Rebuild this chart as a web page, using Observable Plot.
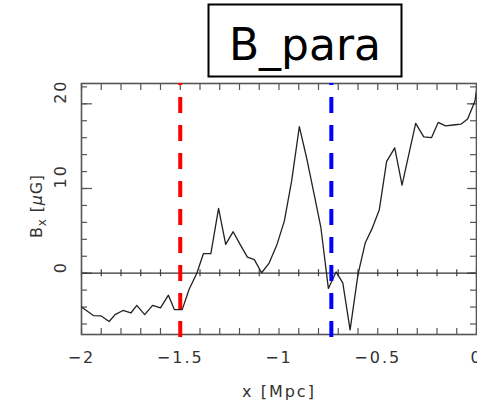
<!DOCTYPE html>
<html><head><meta charset="utf-8">
<script src="https://cdn.jsdelivr.net/npm/d3@7"></script>
<script src="https://cdn.jsdelivr.net/npm/@observablehq/plot@0.6"></script>
<style>body{margin:0;background:#fff;} svg{display:block;}</style>
</head><body><div id="chart"></div>
<script>
const title = "B_para";
const xLabel = "x [Mpc]";
const xValues = [-2.00,-1.94,-1.90,-1.86,-1.83,-1.79,-1.75,-1.72,-1.68,-1.64,-1.60,-1.56,-1.53,-1.49,-1.455,-1.416,-1.383,-1.345,-1.306,-1.27,-1.232,-1.197,-1.16,-1.125,-1.088,-1.05,-1.01,-0.973,-0.936,-0.897,-0.86,-0.822,-0.788,-0.75,-0.711,-0.677,-0.64,-0.60,-0.563,-0.53,-0.492,-0.455,-0.414,-0.377,-0.343,-0.308,-0.267,-0.228,-0.194,-0.157,-0.118,-0.079,-0.045,-0.008,0.0];
const yValues = [-4.0,-5.0,-5.05,-5.7,-4.9,-4.4,-4.7,-3.8,-4.9,-3.8,-4.1,-2.6,-4.3,-4.3,-1.9,0.0,2.3,2.3,7.65,3.4,4.9,3.4,1.9,1.6,0.05,1.2,3.4,6.15,10.9,17.3,13.6,9.3,5.4,-1.8,0.15,-1.15,-6.7,-0.15,3.6,5.2,7.5,13.2,14.8,10.4,14.0,17.7,16.1,16.0,17.8,17.4,17.5,17.6,18.2,20.3,21.6];
const xTickLabels = [-2,-1.5,-1,-0.5,0];
const yTickLabels = [0,10,20];
const xMinorTicks = d3.range(-20,1).map(i=>i/10);
const yMinorTicks = d3.range(-6,23,2);
const yMajorTicks = [0,10,20];
const redLineX = [-1.5];
const blueLineX = [-0.735];

const W = 477, H = 408, mT = 83, mR = 1, mB = 74, mL = 81;
const xDomain = [-2, 0], yDomain = [-7.24, 22.4];
const frameW = W - mL - mR, frameH = H - mT - mB;
const zeroOff = (yDomain[1] - 0) / (yDomain[1] - yDomain[0]) * frameH;
const data = xValues.map((x, i) => ({x, y: yValues[i]}));
const fmt = d => String(d).replace("-", "\u2212");
const tickColor = "#555";

const plot = Plot.plot({
  width: W, height: H,
  marginTop: mT, marginRight: mR, marginBottom: mB, marginLeft: mL,
  x: {domain: xDomain, axis: null},
  y: {domain: yDomain, axis: null},
  style: {fontFamily: "DejaVu Sans", fontSize: "16px", letterSpacing: "2px", background: "#fff"},
  marks: [
    Plot.tickX(xMinorTicks, {x: d => d, insetBottom: frameH - 7, stroke: tickColor, strokeWidth: 1.2}),
    Plot.tickX(xMinorTicks, {x: d => d, insetTop: frameH - 6, stroke: tickColor, strokeWidth: 1.2}),
    Plot.tickX(xMinorTicks, {x: d => d, insetTop: zeroOff - 3.5, insetBottom: frameH - zeroOff - 3.5, stroke: "#444", strokeWidth: 1.2}),
    Plot.tickY(yMinorTicks, {y: d => d, insetRight: frameW - 6, stroke: tickColor, strokeWidth: 1.2}),
    Plot.tickY(yMajorTicks, {y: d => d, insetRight: frameW - 11, stroke: tickColor, strokeWidth: 1.2}),
    Plot.tickY(yMinorTicks, {y: d => d, insetLeft: frameW - 6, stroke: tickColor, strokeWidth: 1.2}),
    Plot.tickY(yMajorTicks, {y: d => d, insetLeft: frameW - 9, stroke: tickColor, strokeWidth: 1.2}),
    Plot.ruleY([0], {stroke: "#333", strokeWidth: 1.3}),
    Plot.frame({stroke: tickColor, strokeWidth: 1.6}),
    Plot.line(data, {x: "x", y: "y", stroke: "#222", strokeWidth: 1.3, clip: true}),
    Plot.ruleX(redLineX, {x: d => d, stroke: "#ff0000", strokeWidth: 4, strokeDasharray: "16,12", strokeDashoffset: 14, insetBottom: -3}),
    Plot.ruleX(blueLineX, {x: d => d, stroke: "#0000ff", strokeWidth: 4, strokeDasharray: "16,12", strokeDashoffset: 14, insetBottom: -3}),
    Plot.text(xTickLabels, {x: d => d, text: fmt, frameAnchor: "bottom", lineAnchor: "top", dy: 17, fill: "#333"}),
    Plot.text(yTickLabels, {y: d => d, text: fmt, frameAnchor: "left", rotate: -90, dx: -21, fill: "#333"}),
    Plot.text([xLabel], {text: d => d, frameAnchor: "bottom", dy: 62, fill: "#333"})
  ]
});

const svg = d3.select(plot);
// Y axis label with subscript and italic mu
const yl = svg.append("text")
  .attr("transform", "translate(42,206) rotate(-90)")
  .attr("text-anchor", "middle")
  .attr("fill", "#333")
  .style("font-family", "DejaVu Sans").style("font-size", "16px").style("letter-spacing", "0.8px");
yl.append("tspan").text("B");
yl.append("tspan").attr("dy", 4).style("font-size", "12px").text("x");
yl.append("tspan").attr("dy", -4).text(" [");
yl.append("tspan").style("font-style", "italic").text("\u03bc");
yl.append("tspan").text("G]");
// Title box
svg.append("rect").attr("x", 208.5).attr("y", 4.5).attr("width", 193).attr("height", 72)
  .attr("fill", "#fff").attr("stroke", "#000").attr("stroke-width", 2);
svg.append("text").attr("x", 305).attr("y", 60).attr("text-anchor", "middle")
  .attr("fill", "#000").style("font-family", "DejaVu Sans").style("font-size", "44px").style("letter-spacing", "0px")
  .text(title);

document.getElementById("chart").appendChild(plot);
</script>
</body></html>
